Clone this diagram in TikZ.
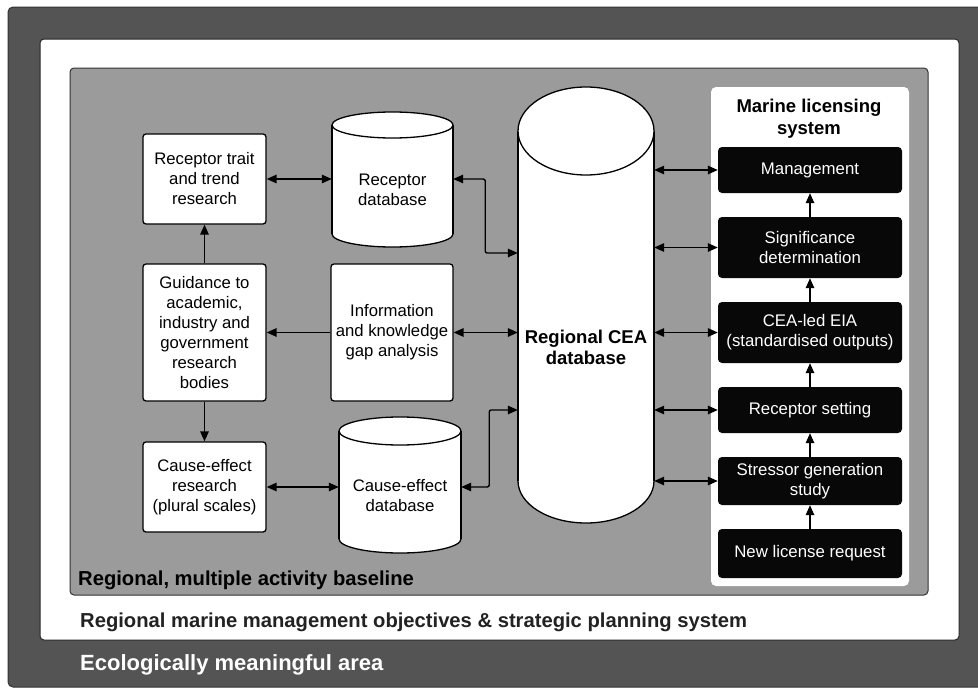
\documentclass[tikz,border=0pt]{standalone}
\usepackage{fontspec}
\setmainfont{Liberation Sans}
\usetikzlibrary{arrows.meta,calc}
\definecolor{darkframe}{HTML}{545454}
\definecolor{midgray}{HTML}{9B9B9B}
\definecolor{labelgray}{HTML}{222222}
\tikzset{
  conn/.style={line width=1.4pt,draw=black,rounded corners=2pt},
  tip/.style={-{Triangle[length=10pt,width=8.5pt]}},
  dtip/.style={{Triangle[length=10pt,width=8.5pt]}-{Triangle[length=10pt,width=8.5pt]}},
  whitebox/.style={draw=black,line width=1.3pt,fill=white,rounded corners=3pt,align=center,
    font=\fontsize{16.7}{20}\selectfont,inner sep=2pt},
  blackbox/.style={fill=black!97,text=white,rounded corners=4pt,align=center,
    font=\fontsize{16.8}{20}\selectfont,minimum width=184pt,inner sep=1pt},
  cylbody/.style={align=center,inner sep=0pt},
  cylline/.style={draw=black,line width=1.3pt,fill=white},
  biglabel/.style={anchor=west,font=\bfseries\fontsize{20.2}{22}\selectfont,inner sep=0pt}
}
\begin{document}
\begin{tikzpicture}[x=1pt,y=-1pt]
\useasboundingbox (0,0) rectangle (978,688);
% frames
\fill[white] (0,0) rectangle (978,688);
\filldraw[fill=darkframe,draw=black!80,line width=1pt,rounded corners=5pt] (8,7) rectangle (990,687);
\filldraw[fill=white,draw=black!85,line width=1pt,rounded corners=4pt] (40,39) rectangle (959,640);
\filldraw[fill=midgray,draw=black!80,line width=1pt,rounded corners=4pt] (70,68) rectangle (928,595);
\fill[white,rounded corners=5pt] (711,87) rectangle (909,586);

% labels of frames
\node[biglabel,text=black] (lab1) at (78,580) {Regional, multiple activity baseline};
\node[biglabel,text=labelgray] (lab2) at (80,622) {Regional marine management objectives \& strategic planning system};
\node[biglabel,text=white,font=\bfseries\fontsize{22}{24}\selectfont] (lab3) at (80,665) {Ecologically meaningful area};

% left boxes
\node[whitebox,minimum width=123pt,minimum height=90pt] (rt) at (204.5,179) {Receptor trait\\and trend\\research};
\node[whitebox,minimum width=123pt,minimum height=137pt] (gd) at (204.5,332.5) {Guidance to\\academic,\\industry and\\government\\research\\bodies};
\node[whitebox,minimum width=123pt,minimum height=90pt] (ce) at (204.5,487) {Cause-effect\\research\\(plural scales)};
\node[whitebox,minimum width=122pt,minimum height=137pt] (info) at (392,332.5) {Information\\and knowledge\\gap analysis};

% Receptor database cylinder: x 332-453, y 112-247, ry 13
\draw[cylline] (392.5,234) ellipse [x radius=60.5,y radius=13];
\fill[white] (332,125) rectangle (453,234);
\draw[line width=1.3pt] (332,125) -- (332,234) (453,125) -- (453,234);
\draw[cylline] (392.5,125) ellipse [x radius=60.5,y radius=13];
\node[cylbody,minimum width=121pt,minimum height=135pt] (rdb) at (392.5,179.5) {};
\node[align=center,font=\fontsize{16.7}{20}\selectfont] (rdbt) at (392.5,190) {Receptor\\database};

% Cause-effect database: x 339-461, y 417-553, ry 14
\draw[cylline] (400,539) ellipse [x radius=61,y radius=14];
\fill[white] (339,431) rectangle (461,539);
\draw[line width=1.3pt] (339,431) -- (339,539) (461,431) -- (461,539);
\draw[cylline] (400,431) ellipse [x radius=61,y radius=14];
\node[cylbody,minimum width=122pt,minimum height=136pt] (cdb) at (400,485) {};
\node[align=center,font=\fontsize{16.7}{20}\selectfont] (cdbt) at (400,496) {Cause-effect\\database};

% Regional CEA database: x 518-654, y 87-523
\draw[cylline] (586,481) ellipse [x radius=68,y radius=42];
\fill[white] (518,131) rectangle (654,481);
\draw[line width=1.3pt] (518,131) -- (518,481) (654,131) -- (654,481);
\draw[cylline] (586,131) ellipse [x radius=68,y radius=44];
\node[cylbody,minimum width=136pt,minimum height=436pt] (cea) at (586,305) {};
\node[align=center,font=\bfseries\fontsize{18.5}{21}\selectfont] (ceat) at (586,347) {Regional CEA\\database};

% Marine licensing system
\node[align=center,font=\bfseries\fontsize{18.5}{22}\selectfont] (mlt) at (809,119) {Marine licensing\\system};
\node[blackbox,minimum height=46pt] (mg) at (810,170) {Management};
\node[blackbox,minimum height=61pt] (sg) at (810,247.5) {Significance\\determination};
\node[blackbox,minimum height=61pt] (eia) at (810,332.5) {CEA-led EIA\\(standardised outputs)};
\node[blackbox,minimum height=46pt] (rs) at (810,410) {Receptor setting};
\node[blackbox,minimum height=48pt] (sgs) at (810,481) {Stressor generation\\study};
\node[blackbox,minimum height=49pt] (nl) at (810,553.5) {New license request};

% vertical arrows in licensing system
\draw[conn,tip] (nl) -- (sgs);
\draw[conn,tip] (sgs) -- (rs);
\draw[conn,tip] (rs) -- (eia);
\draw[conn,tip] (eia) -- (sg);
\draw[conn,tip] (sg) -- (mg);

% CEA <-> licensing boxes
\foreach \b in {mg,sg,eia,rs,sgs}{
  \draw[conn,dtip] (cea.east |- \b.west) -- (\b.west);
}

% left connectors
\draw[conn,dtip] (rt.east) -- (rdb.west |- rt.east);
\draw[conn,dtip] (rdb.east |- rt.east) -- ++(32,0) |- (cea.west |- 0,253);
\draw[conn,tip] (info.west) -- (gd.east);
\draw[conn,dtip] (info.east) -- (cea.west |- info.east);
\draw[conn,tip] (gd.north) -- (rt.south);
\draw[conn,tip] (gd.south) -- (ce.north);
\draw[conn,dtip] (ce.east) -- (cdb.west |- ce.east);
\draw[conn,dtip] (cdb.east |- ce.east) -- ++(28,0) |- (cea.west |- 0,410);
\end{tikzpicture}
\end{document}
